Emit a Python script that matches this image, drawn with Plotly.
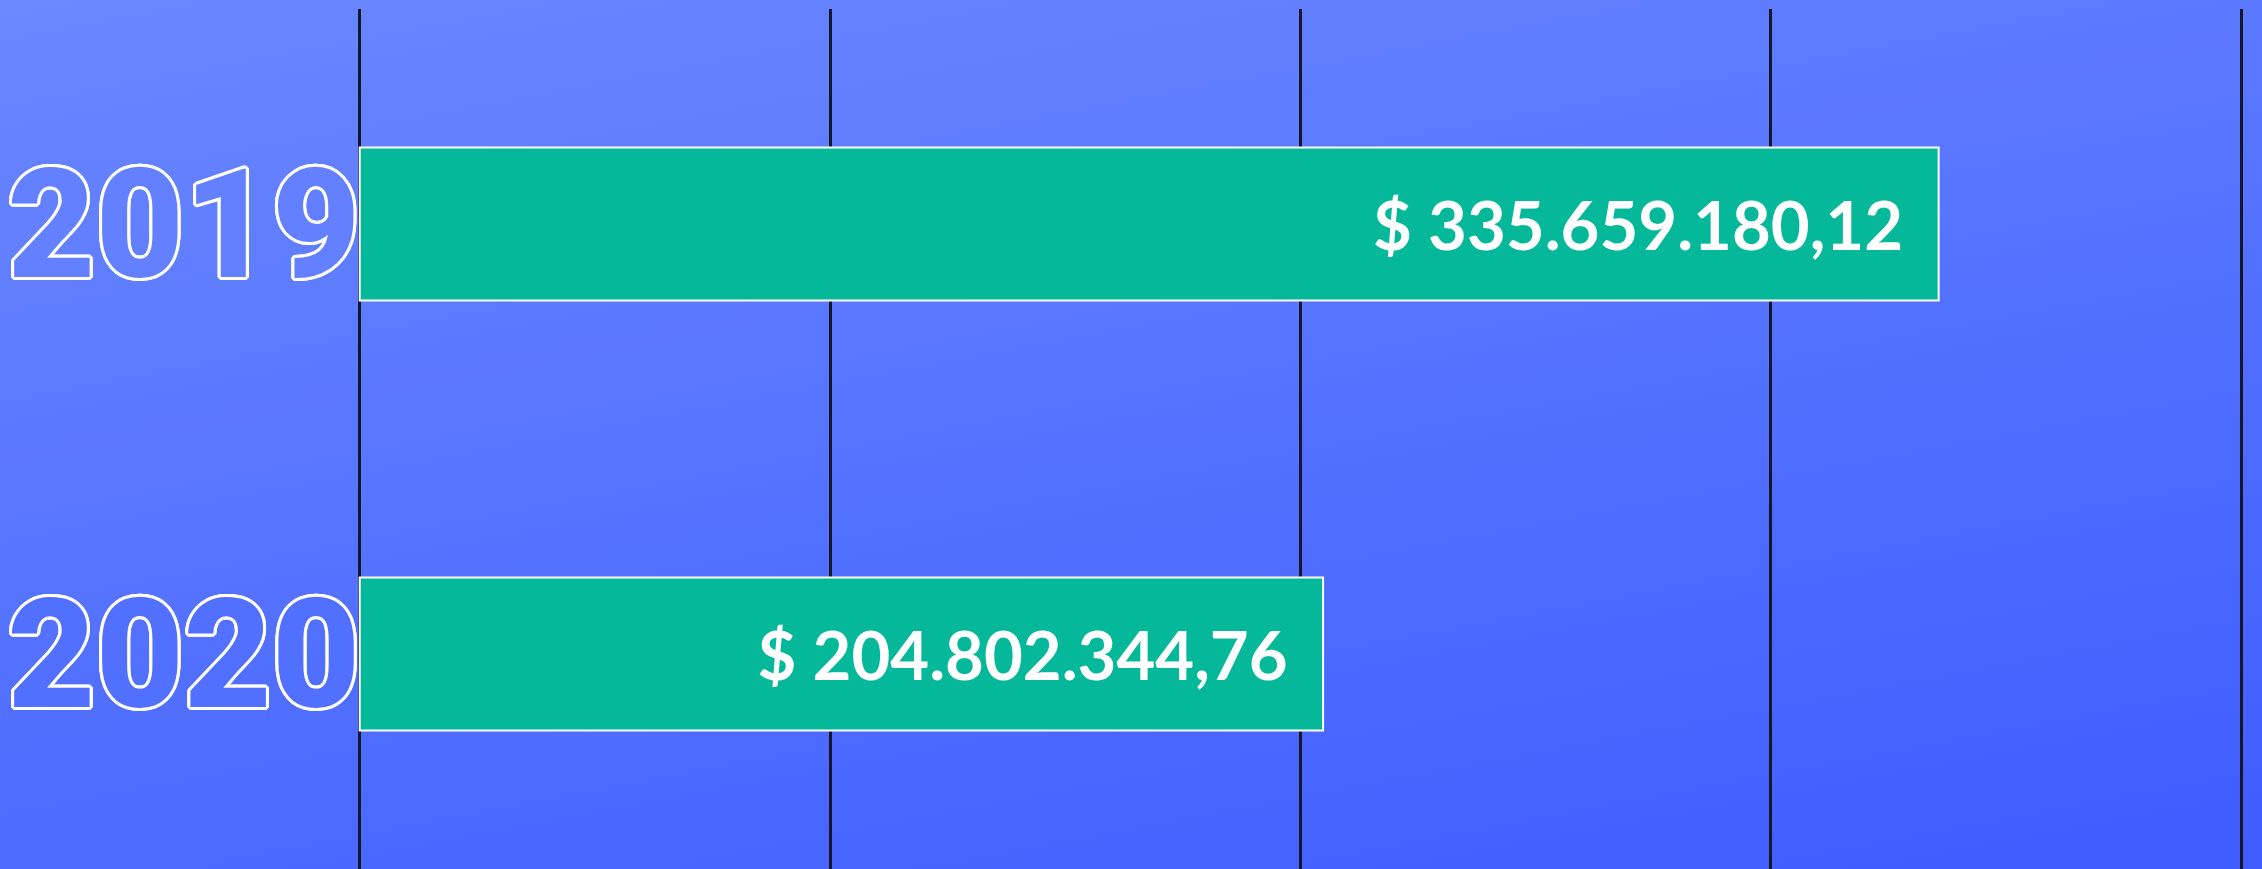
"""
Revenue per year - horizontal bar infographic
"""

import base64
import plotly.graph_objects as go

# data
years = ["2019", "2020"]
amounts = [335659180.12, 204802344.76]
grid_ticks = [0, 100e6, 200e6, 300e6, 400e6]

# fill colour of the outlined year labels (matches the background behind them)
year_fill = ["#6280FF", "#5270FF"]

W, H = 2262, 869
margin = dict(l=355, r=16, t=9, b=0)

# background gradient as an svg image laid over the whole page
svg = f"""<svg xmlns="http://www.w3.org/2000/svg" width="{W}" height="{H}" viewBox="0 0 {W} {H}" preserveAspectRatio="none">
<defs><linearGradient id="g" gradientUnits="userSpaceOnUse" x1="0" y1="0" x2="237" y2="1253">
<stop offset="0" stop-color="#6A88FF"/><stop offset="1" stop-color="#3E5CFF"/>
</linearGradient></defs>
<rect width="{W}" height="{H}" fill="url(#g)"/></svg>"""
bg_src = "data:image/svg+xml;base64," + base64.b64encode(svg.encode()).decode()

plot_w = W - margin["l"] - margin["r"]
plot_h = H - margin["t"] - margin["b"]

fig = go.Figure()

fig.add_trace(go.Bar(
    x=amounts,
    y=years,
    orientation='h',
    marker=dict(color='#06B89A', line=dict(color='white', width=2)),
    texttemplate='$ %{x:,.2f}' + '\u00a0' * 2,
    textposition='inside',
    insidetextanchor='end',
    textangle=0,
    insidetextfont=dict(family='Lato, sans-serif', size=67, color='white', weight='bold'),
    hoverinfo='skip',
))

# white outline around the year labels, built from text shadows
offsets = [(3, 0), (-3, 0), (0, 3), (0, -3), (2, 2), (-2, -2), (2, -2), (-2, 2),
           (1, 3), (3, 1), (-1, 3), (-3, 1), (1, -3), (3, -1), (-1, -3), (-3, -1)]
outline = ", ".join(f"{dx}px {dy}px 0 white" for dx, dy in offsets)

fig.update_layout(
    width=W,
    height=H,
    margin=margin,
    paper_bgcolor='#5474FF',
    plot_bgcolor='rgba(0,0,0,0)',
    separators=',.',
    bargap=0.644,
    showlegend=False,
    images=[dict(
        source=bg_src,
        xref='paper', yref='paper',
        x=-margin["l"] / plot_w, y=1 + margin["t"] / plot_h,
        sizex=W / plot_w, sizey=H / plot_h,
        xanchor='left', yanchor='top',
        sizing='stretch', layer='below',
    )],
)

fig.update_xaxes(
    range=[-1e6, 401e6],
    tickvals=grid_ticks,
    showticklabels=False,
    showgrid=True,
    gridcolor='#16162A',
    gridwidth=3,
    zeroline=False,
    showline=False,
    fixedrange=True,
)

fig.update_yaxes(
    autorange='reversed',
    tickvals=years,
    ticktext=[f'<span style="color:{c}">{y}</span>' for y, c in zip(years, year_fill)],
    tickfont=dict(family='Roboto, sans-serif', size=152, weight=900, shadow=outline),
    ticks='',
    ticklabelstandoff=-6,
    showgrid=False,
    zeroline=False,
    showline=False,
    fixedrange=True,
)

fig.write_html(
    "out.html",
    config={'displayModeBar': False},
    post_script="document.body.style.margin='0';document.body.style.overflow='hidden';",
)
